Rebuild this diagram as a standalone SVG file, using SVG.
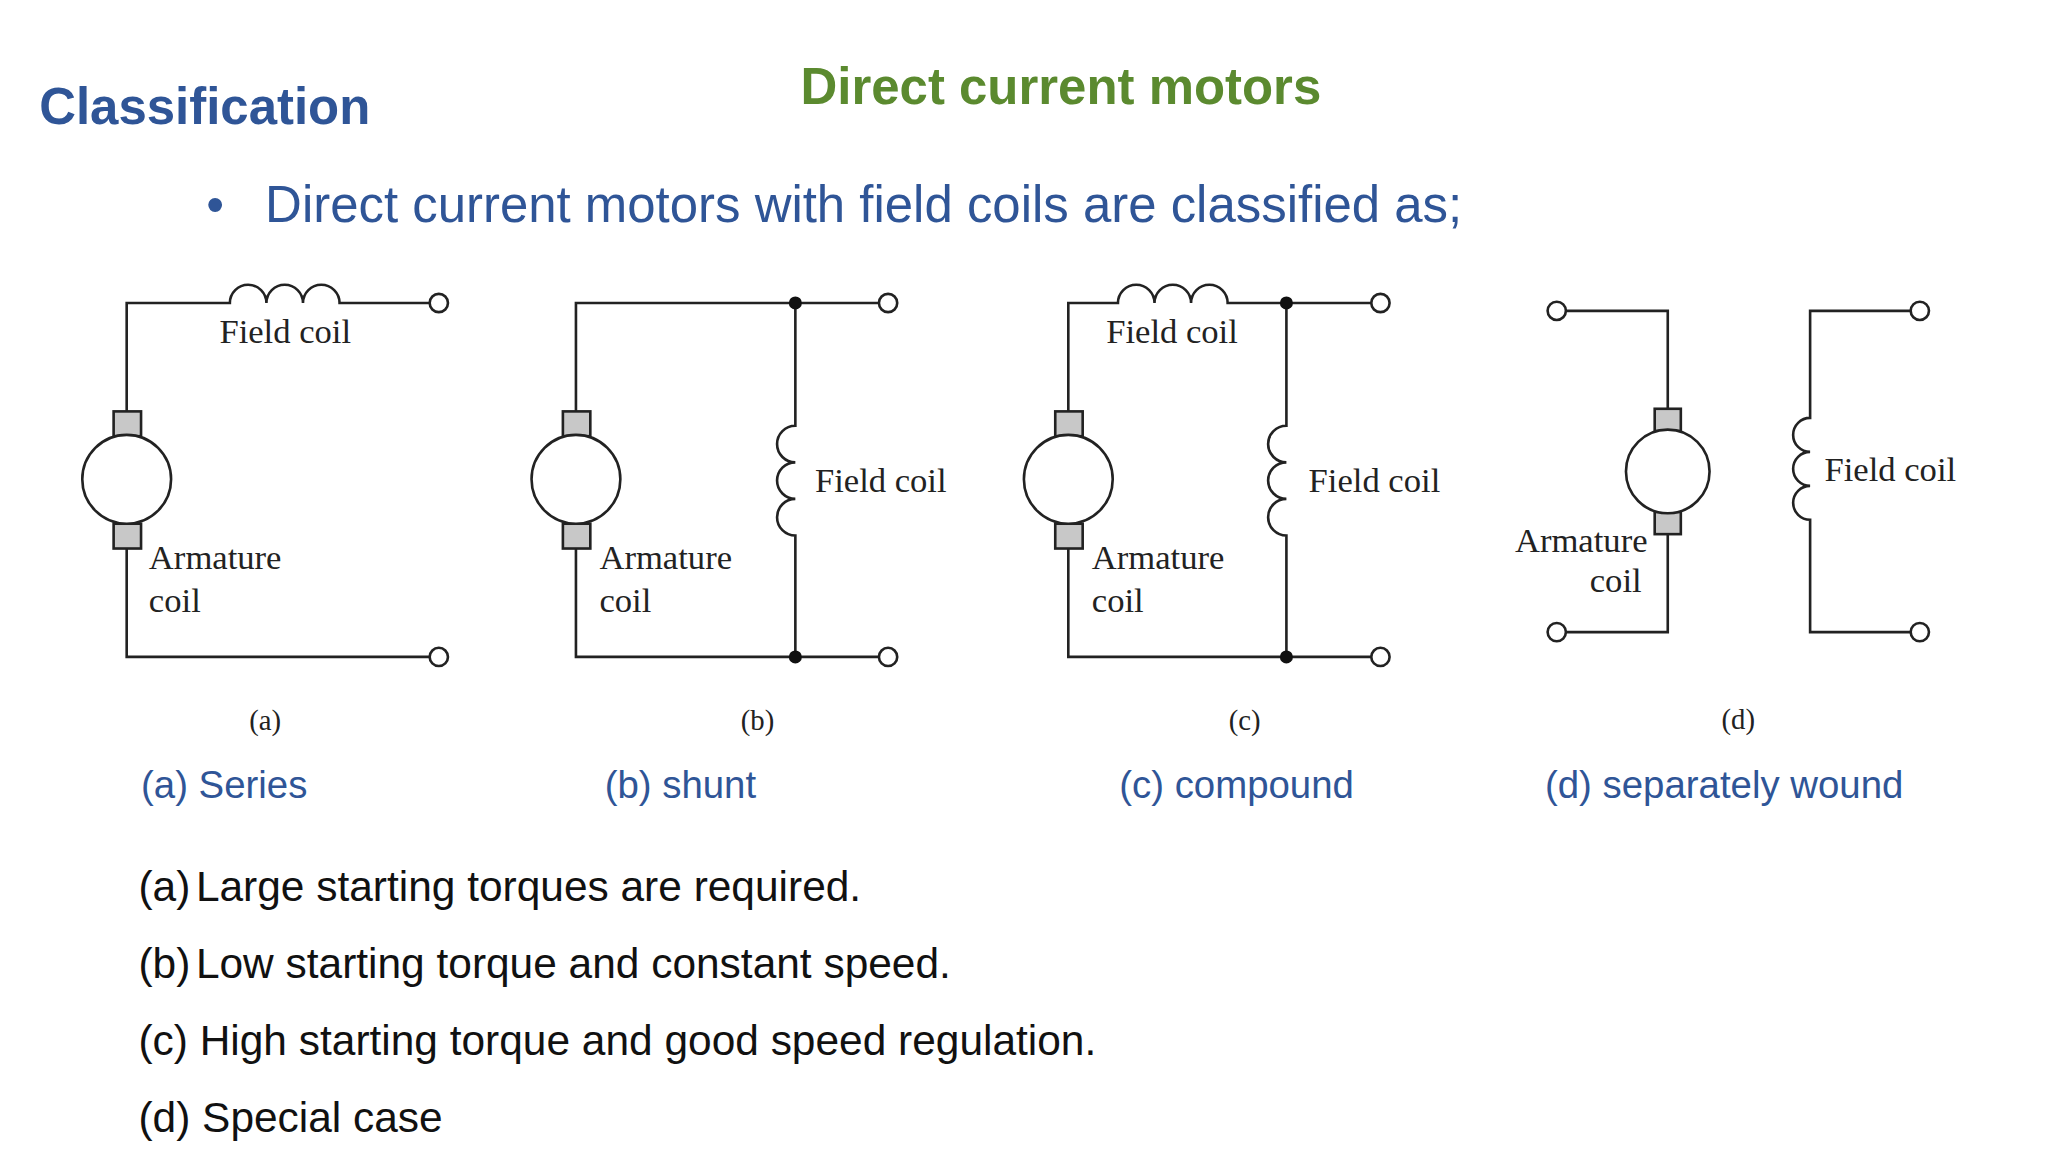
<svg xmlns="http://www.w3.org/2000/svg" width="2048" height="1152" viewBox="0 0 2048 1152">
<style>
.w{fill:none;stroke:#222;stroke-width:2}
.t{fill:#fff;stroke:#222;stroke-width:2}
.b{fill:#c8c8c8;stroke:#222;stroke-width:2}
.d{fill:#111}
.s{font-family:"Liberation Serif",serif;font-size:26.5px;fill:#222}
.cap{font-family:"Liberation Serif",serif;font-size:22px;fill:#222;text-anchor:middle}
.bl{font-family:"Liberation Sans",sans-serif;fill:#2F5597}
.k{font-family:"Liberation Sans",sans-serif;font-size:32.5px;fill:#111}
</style>
<rect width="2048" height="1152" fill="#fff"/>
<g transform="scale(1.306)">
<g id="titles">
<text x="30" y="95" class="bl" font-size="39" font-weight="bold">Classification</text>
<text x="613" y="80" font-family="Liberation Sans,sans-serif" font-size="39" font-weight="bold" fill="#5B8A2F">Direct current motors</text>
<text x="158" y="170" class="bl" font-size="39">•</text>
<text x="203" y="170" class="bl" font-size="39">Direct current motors with field coils are classified as;</text>
</g>
<g id="connectors">
<path class="w" d="M97,315 V232 H176 a14,14 0 0 1 28,0 a14,14 0 0 1 28,0 a14,14 0 0 1 28,0 H329 M97,420 V503 H329"/>
<path class="w" d="M441,315 V232 H673 M609,232 V326 a14,14 0 0 0 0,28 a14,14 0 0 0 0,28 a14,14 0 0 0 0,28 V503 M441,420 V503 H673"/>
<path class="w" d="M818,315 V232 H856 a14,14 0 0 1 28,0 a14,14 0 0 1 28,0 a14,14 0 0 1 28,0 H1050 M985,232 V326 a14,14 0 0 0 0,28 a14,14 0 0 0 0,28 a14,14 0 0 0 0,28 V503 M818,420 V503 H1050"/>
<path class="w" d="M1199,238 H1277 V313 M1277,409 V484 H1199 M1463,238 H1386 V320 a13,13 0 0 0 0,26 a13,13 0 0 0 0,26 a13,13 0 0 0 0,26 V484 H1463"/>
</g>
<g id="motor-a"><rect class="b" x="87" y="315" width="21" height="19"/><rect class="b" x="87" y="401" width="21" height="19"/><ellipse class="t" cx="97" cy="367" rx="34" ry="34"/></g>
<g id="motor-b"><rect class="b" x="431" y="315" width="21" height="19"/><rect class="b" x="431" y="401" width="21" height="19"/><ellipse class="t" cx="441" cy="367" rx="34" ry="34"/></g>
<g id="motor-c"><rect class="b" x="808" y="315" width="21" height="19"/><rect class="b" x="808" y="401" width="21" height="19"/><ellipse class="t" cx="818" cy="367" rx="34" ry="34"/></g>
<g id="motor-d"><rect class="b" x="1267" y="313" width="20" height="17"/><rect class="b" x="1267" y="392" width="20" height="17"/><ellipse class="t" cx="1277" cy="361" rx="32" ry="32"/></g>
<g id="terminals">
<circle class="t" cx="336" cy="232" r="7"/><circle class="t" cx="336" cy="503" r="7"/>
<circle class="t" cx="680" cy="232" r="7"/><circle class="t" cx="680" cy="503" r="7"/>
<circle class="t" cx="1057" cy="232" r="7"/><circle class="t" cx="1057" cy="503" r="7"/>
<circle class="t" cx="1192" cy="238" r="7"/><circle class="t" cx="1192" cy="484" r="7"/>
<circle class="t" cx="1470" cy="238" r="7"/><circle class="t" cx="1470" cy="484" r="7"/>
<circle class="d" cx="609" cy="232" r="5"/><circle class="d" cx="609" cy="503" r="5"/>
<circle class="d" cx="985" cy="232" r="5"/><circle class="d" cx="985" cy="503" r="5"/>
</g>
<g id="labels">
<text class="s" x="168" y="263">Field coil</text>
<text class="s" x="114" y="436">Armature</text><text class="s" x="114" y="469">coil</text>
<text class="s" x="624" y="377">Field coil</text>
<text class="s" x="459" y="436">Armature</text><text class="s" x="459" y="469">coil</text>
<text class="s" x="847" y="263">Field coil</text>
<text class="s" x="1002" y="377">Field coil</text>
<text class="s" x="836" y="436">Armature</text><text class="s" x="836" y="469">coil</text>
<text class="s" x="1397" y="368" font-size="24">Field coil</text>
<text class="s" x="1160" y="423" font-size="24">Armature</text><text class="s" x="1257" y="453" font-size="24" text-anchor="end">coil</text>
<text class="cap" x="203" y="559">(a)</text><text class="cap" x="580" y="559">(b)</text>
<text class="cap" x="953" y="559">(c)</text><text class="cap" x="1331" y="558">(d)</text>
<text class="bl" font-size="29.4" x="108" y="611">(a) Series</text>
<text class="bl" font-size="29.4" x="463" y="611">(b) shunt</text>
<text class="bl" font-size="29.4" x="857" y="611">(c) compound</text>
<text class="bl" font-size="29.4" x="1183" y="611">(d) separately wound</text>
</g>
<g id="list">
<text class="k" x="106" y="690">(a)</text><text class="k" x="150" y="690">Large starting torques are required.</text>
<text class="k" x="106" y="749">(b)</text><text class="k" x="150" y="749">Low starting torque and constant speed.</text>
<text class="k" x="106" y="808">(c) High starting torque and good speed regulation.</text>
<text class="k" x="106" y="867">(d) Special case</text>
</g>
</g>
</svg>
